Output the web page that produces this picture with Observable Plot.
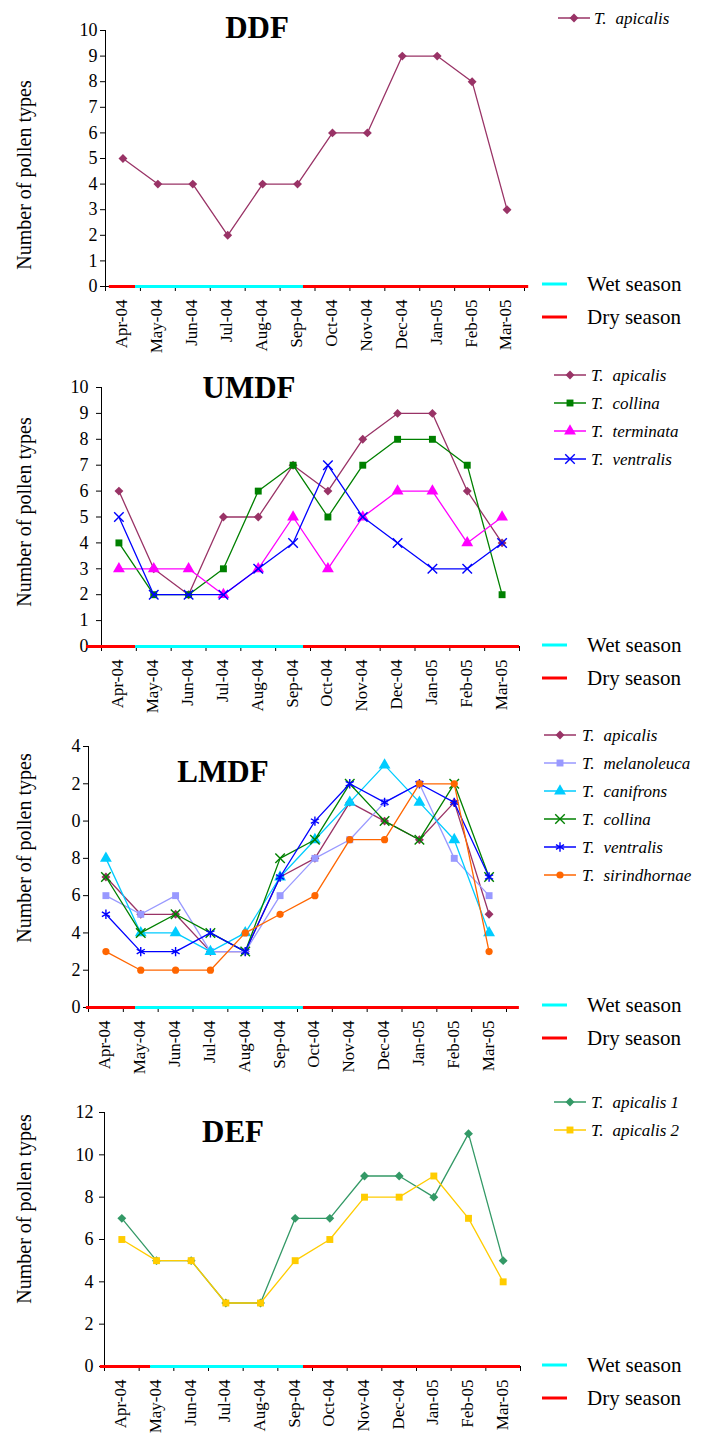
<!DOCTYPE html>
<html>
<head>
<meta charset="utf-8">
<script src="https://cdn.jsdelivr.net/npm/d3@7"></script>
<script src="https://cdn.jsdelivr.net/npm/@observablehq/plot@0.6"></script>
<style>
  body { margin: 0; background: #fff; }
  #charts { width: 705px; }
  #charts svg { display: block; }
</style>
</head>
<body>
<div id="charts"></div>
<script>
// Sampling months (x categories)
const months = ["Apr-04", "May-04", "Jun-04", "Jul-04", "Aug-04", "Sep-04",
                "Oct-04", "Nov-04", "Dec-04", "Jan-05", "Feb-05", "Mar-05"];

// Number of pollen types per month — DDF
const ddfApicalis = [5, 4, 4, 2, 4, 4, 6, 6, 9, 9, 8, 3];

// UMDF
const umdfApicalis  = [6, 3, 2, 5, 5, 7, 6, 8, 9, 9, 6, 4];
const umdfCollina   = [4, 2, 2, 3, 6, 7, 5, 7, 8, 8, 7, 2];
const umdfTerminata = [3, 3, 3, 2, 3, 5, 3, 5, 6, 6, 4, 5];
const umdfVentralis = [5, 2, 2, 2, 3, 4, 7, 5, 4, 3, 3, 4];

// LMDF
const lmdfApicalis     = [7, 5, 5, 3, 3, 7, 8, 11, 10, 9, 11, 5];
const lmdfMelanoleuca  = [6, 5, 6, 3, 3, 6, 8, 9, 11, 12, 8, 6];
const lmdfCanifrons    = [8, 4, 4, 3, 4, 7, 9, 11, 13, 11, 9, 4];
const lmdfCollina      = [7, 4, 5, 4, 3, 8, 9, 12, 10, 9, 12, 7];
const lmdfVentralis    = [5, 3, 3, 4, 3, 7, 10, 12, 11, 12, 11, 7];
const lmdfSirindhornae = [3, 2, 2, 2, 4, 5, 6, 9, 9, 12, 12, 3];

// DEF
const defApicalis1 = [7, 5, 5, 3, 3, 7, 7, 9, 9, 8, 11, 5];
const defApicalis2 = [6, 5, 5, 3, 3, 5, 6, 8, 8, 9, 7, 4];

// Season bars along the zero line, in month units from the y axis
const ddfSeasons  = [{season: "Dry", from: 0.11, to: 0.86}, {season: "Wet", from: 0.86, to: 5.67}, {season: "Dry", from: 5.67, to: 12.12}];
const umdfSeasons = [{season: "Dry", from: -0.43, to: 0.98}, {season: "Wet", from: 0.98, to: 5.80}, {season: "Dry", from: 5.80, to: 12.0}];
const lmdfSeasons = [{season: "Dry", from: -0.06, to: 1.35}, {season: "Wet", from: 1.35, to: 6.17}, {season: "Dry", from: 6.17, to: 12.37}];
const defSeasons  = [{season: "Dry", from: -0.12, to: 1.33}, {season: "Wet", from: 1.33, to: 5.74}, {season: "Dry", from: 5.74, to: 12.0}];

const seasonColor = {Wet: "#00FFFF", Dry: "#FF0000"};
const SERIF = "Liberation Serif";

const symbolTypes = {
  diamond2: d3.symbolDiamond2, square: d3.symbolSquare, triangle: d3.symbolTriangle,
  times: d3.symbolTimes, asterisk: d3.symbolAsterisk, circle: d3.symbolCircle
};
const strokedSymbols = new Set(["times", "asterisk"]);

const panels = [
  {
    title: "DDF", yMax: 10, yTicks: d3.range(0, 11, 1), seasons: ddfSeasons,
    series: [
      {name: "apicalis", values: ddfApicalis, color: "#993366", symbol: "diamond2", r: 4}
    ],
    height: 350, margin: {top: 30, right: 181, bottom: 64, left: 105}, tickPad: 3,
    titleX: 257, titleY: 38, yLabelY: 175,
    legX: 558, legY: 18, legText: 594, seasonY: 284
  },
  {
    title: "UMDF", yMax: 10, yTicks: d3.range(0, 11, 1), seasons: umdfSeasons,
    series: [
      {name: "apicalis",  values: umdfApicalis,  color: "#993366", symbol: "diamond2", r: 4},
      {name: "collina",   values: umdfCollina,   color: "#008000", symbol: "square",   r: 3.9},
      {name: "terminata", values: umdfTerminata, color: "#FF00FF", symbol: "triangle", r: 4.4},
      {name: "ventralis", values: umdfVentralis, color: "#0000FF", symbol: "times",    r: 4.4}
    ],
    height: 365, margin: {top: 37, right: 186, bottom: 69, left: 101}, tickPad: 8,
    titleX: 249, titleY: 48, yLabelY: 162,
    legX: 554, legY: 25, legText: 591, seasonY: 295
  },
  {
    title: "LMDF", yMax: 14, yTicks: d3.range(0, 15, 2), seasons: lmdfSeasons,
    // tick labels only show the units digit
    yFormat: d => String(d).slice(-1),
    series: [
      {name: "apicalis",     values: lmdfApicalis,     color: "#993366", symbol: "diamond2", r: 4},
      {name: "melanoleuca",  values: lmdfMelanoleuca,  color: "#9999FF", symbol: "square",   r: 3.9},
      {name: "canifrons",    values: lmdfCanifrons,    color: "#00CCFF", symbol: "triangle", r: 4.4},
      {name: "collina",      values: lmdfCollina,      color: "#008000", symbol: "times",    r: 4.4},
      {name: "ventralis",    values: lmdfVentralis,    color: "#0000FF", symbol: "asterisk", r: 4.4},
      {name: "sirindhornae", values: lmdfSirindhornae, color: "#FF6600", symbol: "circle",   r: 3.6}
    ],
    height: 365, margin: {top: 31, right: 199, bottom: 73, left: 88}, tickPad: 3,
    titleX: 223, titleY: 67, yLabelY: 133,
    legX: 544, legY: 20, legText: 582, seasonY: 290
  },
  {
    title: "DEF", yMax: 12, yTicks: d3.range(0, 13, 2), seasons: defSeasons,
    series: [
      {name: "apicalis 1", values: defApicalis1, color: "#339966", symbol: "diamond2", r: 4},
      {name: "apicalis 2", values: defApicalis2, color: "#FFCC00", symbol: "square",   r: 3.9}
    ],
    height: 356, margin: {top: 32, right: 185, bottom: 70, left: 104}, tickPad: 6,
    titleX: 233, titleY: 62, yLabelY: 129,
    legX: 554, legY: 22, legText: 591, seasonY: 285
  }
];

const container = document.getElementById("charts");

for (const p of panels) {
  const marks = [];
  // axis lines
  marks.push(Plot.ruleY([0], {stroke: "black", strokeWidth: 1}));
  marks.push(Plot.ruleX([0], {stroke: "black", strokeWidth: 1}));
  // y axis ticks and labels
  marks.push(Plot.axisY(p.yTicks, {
    tickSize: 5, tickPadding: p.tickPad, fontSize: 18,
    tickFormat: p.yFormat || (d => String(d)), label: null
  }));
  // x tick marks at month boundaries
  marks.push(Plot.axisX(d3.range(0, 13), {tickSize: 5, tickFormat: () => "", label: null}));
  // month labels, rotated, centred under each month
  marks.push(Plot.text(months.map((m, i) => ({m, i})), {
    x: d => d.i + 0.5, y: () => 0, text: "m", rotate: -90, textAnchor: "end",
    dy: 13, dx: -1, fontSize: 17, fill: "black"
  }));
  // series: line then markers
  for (const s of p.series) {
    const rows = s.values.map((v, i) => ({i, v}));
    marks.push(Plot.line(rows, {x: d => d.i + 0.5, y: "v", stroke: s.color, strokeWidth: 1.3}));
    const stroked = strokedSymbols.has(s.symbol);
    marks.push(Plot.dot(rows, {
      x: d => d.i + 0.5, y: "v", symbol: s.symbol, r: s.r,
      fill: stroked ? "none" : s.color, stroke: stroked ? s.color : "none",
      strokeWidth: stroked ? 1.4 : 0
    }));
  }
  // seasonal bar along the zero line
  marks.push(Plot.ruleY(p.seasons, {
    y: () => 0, x1: "from", x2: "to",
    stroke: d => seasonColor[d.season], strokeWidth: 3
  }));

  const chart = Plot.plot({
    width: 705, height: p.height,
    marginTop: p.margin.top, marginRight: p.margin.right,
    marginBottom: p.margin.bottom, marginLeft: p.margin.left,
    x: {type: "linear", domain: [0, 12]},
    y: {domain: [0, p.yMax]},
    style: {color: "black", background: "white", overflow: "visible"},
    marks
  });

  const svg = d3.select(chart);

  // panel title
  svg.append("text").attr("x", p.titleX).attr("y", p.titleY)
    .attr("text-anchor", "middle")
    .attr("font-weight", "bold").attr("font-size", 31).attr("fill", "black")
    .text(p.title);

  // y-axis title
  svg.append("text")
    .attr("transform", `translate(31,${p.yLabelY}) rotate(-90)`)
    .attr("text-anchor", "middle")
    .attr("font-size", 20).attr("fill", "black")
    .text("Number of pollen types");

  // species legend
  p.series.forEach((s, i) => {
    const y = p.legY + i * 28;
    const g = svg.append("g");
    g.append("line").attr("x1", p.legX).attr("x2", p.legX + 32)
      .attr("y1", y).attr("y2", y).attr("stroke", s.color).attr("stroke-width", 1.5);
    const stroked = strokedSymbols.has(s.symbol);
    g.append("path")
      .attr("d", d3.symbol(symbolTypes[s.symbol], s.r * s.r * Math.PI)())
      .attr("transform", `translate(${p.legX + 16},${y})`)
      .attr("fill", stroked ? "none" : s.color)
      .attr("stroke", stroked ? s.color : "none").attr("stroke-width", 1.4);
    const t = g.append("text").attr("x", p.legText).attr("y", y).attr("dy", "0.33em")
      .attr("text-anchor", "start").attr("font-style", "italic")
      .attr("font-size", 17).attr("fill", "black");
    t.append("tspan").text("T.");
    t.append("tspan").attr("dx", 9).text(s.name);
  });

  // season legend
  ["Wet", "Dry"].forEach((k, i) => {
    const y = p.seasonY + i * 33;
    svg.append("line").attr("x1", 542).attr("x2", 567).attr("y1", y).attr("y2", y)
      .attr("stroke", seasonColor[k]).attr("stroke-width", 3);
    svg.append("text").attr("x", 587).attr("y", y).attr("dy", "0.33em")
      .attr("text-anchor", "start")
      .attr("font-size", 21).attr("fill", "black")
      .text(`${k} season`);
  });

  // every label in the serif face, set inline so it wins over the default stylesheet
  svg.style("font-family", SERIF);
  svg.selectAll("text").style("font-family", SERIF).attr("font-family", SERIF);

  container.appendChild(chart);
}
</script>
</body>
</html>
